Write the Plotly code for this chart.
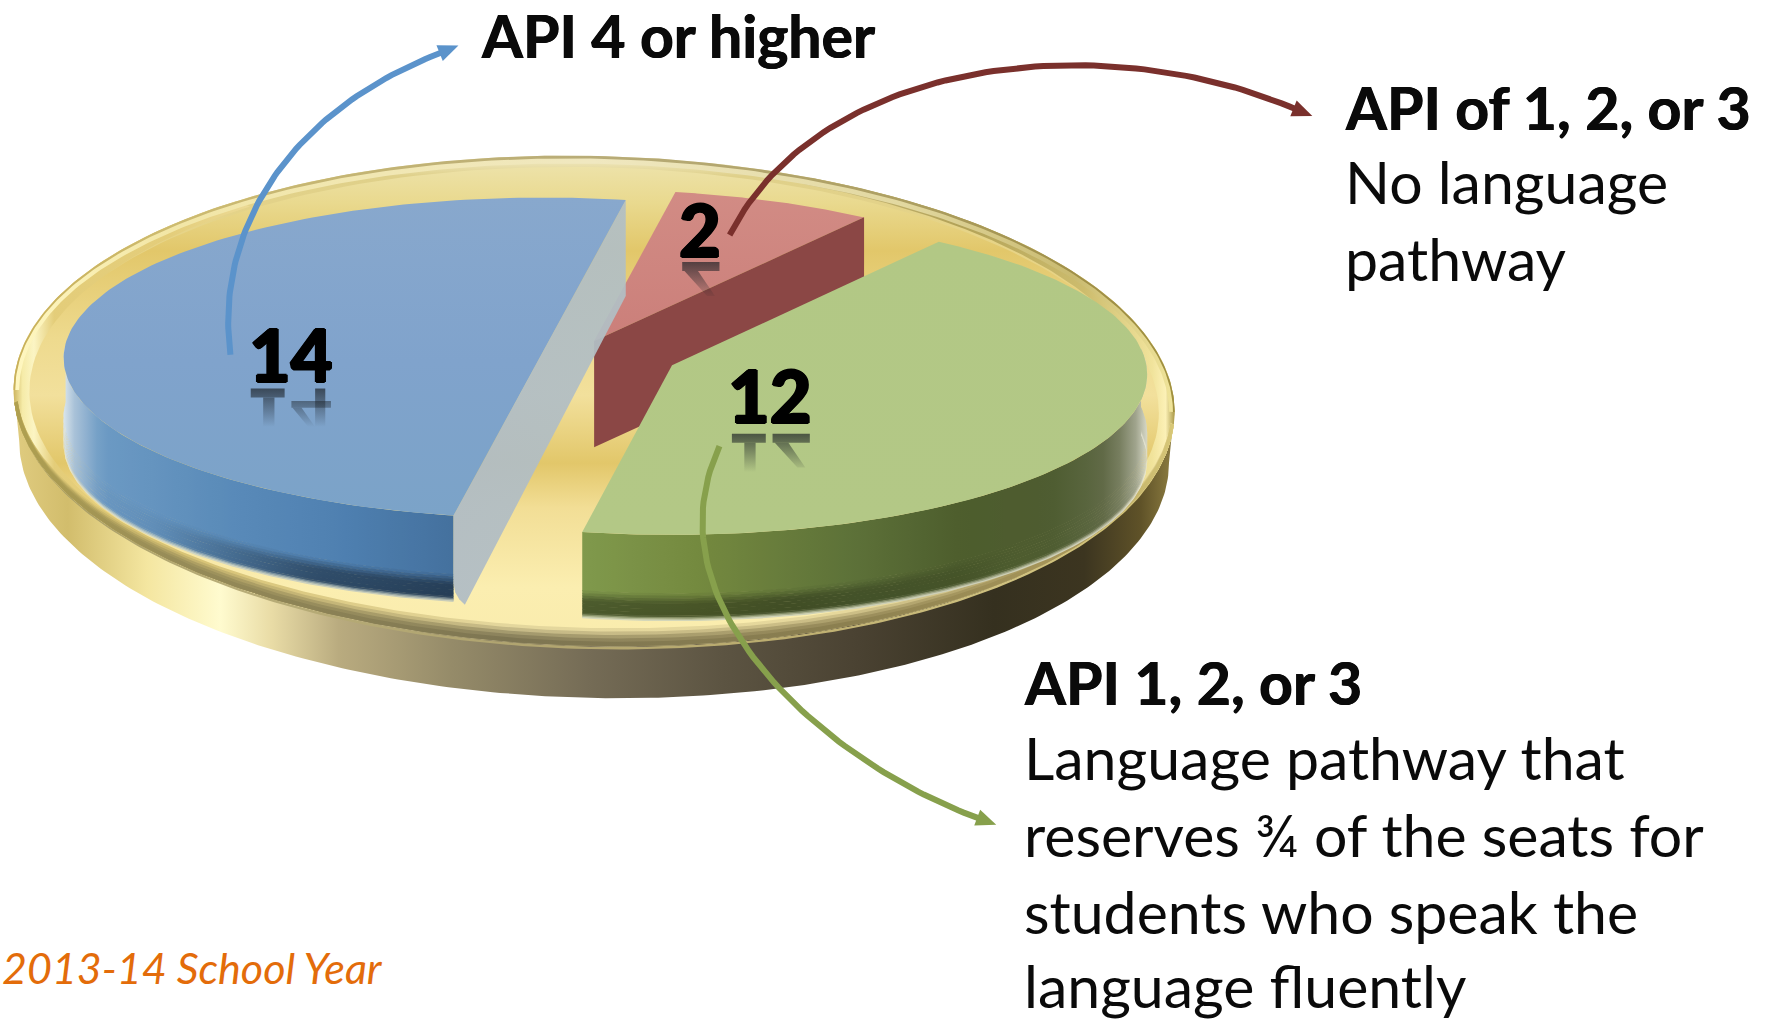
import numpy as np
import plotly.graph_objects as go

# ---------- data ----------
slice_names = ["API 4 or higher", "API of 1, 2, or 3, no language pathway", "API 1, 2, or 3, language pathway"]
slice_values = [14, 2, 12]
slice_labels = ["14", "2", "12"]

heading_blue = "API 4 or higher"
heading_red = "API of 1, 2, or 3"
lines_red = ["No language", "pathway"]
heading_green = "API 1, 2, or 3"
lines_green = ["Language pathway that", "reserves ¾ of the seats for", "students who speak the", "language fluently"]
footnote = "2013-14 School Year"

# ---------- helpers ----------
W, H = 1771, 1021
UW, UH = 1568, 904   # drawing units
fig = go.Figure()


def hex2rgb(c):
    c = c.lstrip("#")
    return np.array([int(c[i:i + 2], 16) for i in (0, 2, 4)], float)


def poly(x, y, color=None, stops=None, kind="horizontal", opacity=1.0, name=""):
    """Filled polygon. stops = [(axis position, colour), ...]"""
    kw = dict(x=list(x), y=list(y), mode="lines", line=dict(width=0), fill="toself",
              showlegend=False, opacity=opacity, hoverinfo="skip" if not name else "text",
              text=name or None)
    if stops:
        a, b = stops[0][0], stops[-1][0]
        scale = [[(p - a) / (b - a), c] for p, c in stops]
        kw["fillgradient"] = dict(type=kind, colorscale=scale, start=a, stop=b)
    else:
        kw["fillcolor"] = color
    fig.add_trace(go.Scatter(**kw))


# ---------- plate ----------
PX, PY, PA, PB = 526, 355, 514, 217
TILT = 0.019


def ell(cx, cy, a, b, t0=0.0, t1=360.0, n=240):
    t = np.radians(np.linspace(t0, t1, n))
    x = cx + a * np.cos(t)
    return x, cy - b * np.sin(t) + (x - PX) * TILT


wall_stops = [(12, "#e0cc80"), (60, "#d2bd6c"), (130, "#f4e6a0"), (195, "#fffbcf"), (240, "#e9dca6"),
              (300, "#b9ab7f"), (400, "#958b69"), (520, "#756c56"), (640, "#5c5442"), (760, "#4a4232"),
              (880, "#35301f"), (960, "#3c3520"), (1010, "#5f5228"), (1040, "#8f7f42")]
x1, y1 = ell(PX, PY - 6, PA, PB, 180, 360)
x2, y2 = ell(PX, PY + 45, PA - 5, PB + 1, 360, 180)
poly(np.r_[x1, x2], np.r_[y1, y2], stops=wall_stops)

# thin light line just under the rim
x1, y1 = ell(PX, PY, PA - 1, PB + 0.6, 180, 360)
x2, y2 = ell(PX, PY + 2.2, PA - 1, PB + 0.6, 360, 180)
poly(np.r_[x1, x2], np.r_[y1, y2], stops=[(12, "#a59a60"), (200, "#b8ad78"), (450, "#b0a470"), (700, "#bdae70"),
                                          (900, "#d0c280"), (1040, "#d0bf70")])

# rim
xr, yr = ell(PX, PY, PA, PB)
poly(xr, yr, stops=[(128, "#a99c62"), (133, "#cfc38c"), (142, "#efe7bd"), (156, "#dfd08a"), (200, "#e6d488"),
                    (400, "#ead07a"), (540, "#f6e8a8"), (585, "#f4e6a6")],
     kind="vertical")
# left highlight and right gold on the rim
x1, y1 = ell(PX, PY, PA, PB, 128, 250)
x2, y2 = ell(PX + 2, PY, PA - 16, PB - 6, 250, 128)
poly(np.r_[x1, x2], np.r_[y1, y2], stops=[(12, "#c8b05a"), (20, "#f8f0b0"), (30, "#fffbd0"), (48, "#e3cc78"), (150, "#e3cc78"),
                                          (240, "#f0dfa0"), (310, "#f7e7a4")], opacity=0.85)
x1, y1 = ell(PX, PY, PA, PB, -50, 68)
x2, y2 = ell(PX - 2, PY, PA - 14, PB - 6, 68, -50)
poly(np.r_[x1, x2], np.r_[y1, y2], stops=[(640, "#d8cb95"), (850, "#a9994f"), (960, "#c8b869"), (1020, "#f2e6a0"), (1032, "#fff6c0"),
                                          (1040, "#a0903f")], opacity=0.85)

# upper edge of the rim: bright band, then a thin tan outer line
x1, y1 = ell(PX, PY, PA - 1, PB - 1, 0, 180)
x2, y2 = ell(PX, PY, PA - 5, PB - 7, 180, 0)
poly(np.r_[x1, x2], np.r_[y1, y2], stops=[(12, "#fff7c0"), (150, "#f2e6a6"), (526, "#f0e8c0"), (800, "#e2d8a0"),
                                          (950, "#c9ba70"), (1040, "#f0e49a")])
x1, y1 = ell(PX, PY, PA, PB, 0, 180)
x2, y2 = ell(PX, PY, PA - 1.5, PB - 2.5, 180, 0)
poly(np.r_[x1, x2], np.r_[y1, y2], stops=[(12, "#c8b05a"), (150, "#cdbb70"), (526, "#b8ac78"), (800, "#ad9f62"),
                                          (950, "#a0904a"), (1040, "#a0903f")])

# plate face
xf, yf = ell(PX, PY + 1, PA - 14, PB - 9)
poly(xf, yf, stops=[(140, "#eee4ae"), (180, "#e9d98e"), (222, "#e2c76a"), (300, "#eeda8e"), (350, "#f2e09c"),
                    (410, "#e2c76a"), (450, "#f2de96"), (520, "#fbeeb0"), (580, "#f9ebac")], kind="vertical")

# lower lip of the rim: thin at the sides, widest at the front, darkening outwards
lip_colours = [(12, "#b0a050"), (150, "#978c58"), (450, "#7d7552"), (750, "#8c8050"), (950, "#a8975a"), (1040, "#d8c878")]
for inner, fade in [(15, 0.85), (12, 0.6), (9, 0.32), (6, 0.12), (3, 0.0)]:
    x1, y1 = ell(PX, PY, PA, PB, 183, 357)
    x2, y2 = ell(PX, PY - 1, PA - 3, PB - inner, 357, 183)
    s = []
    for p, c in lip_colours:
        pale = np.array([226, 204, 120]) if p < 250 else np.array([246, 232, 170])
        col = hex2rgb(c) * (1 - fade) + pale * fade
        s.append((p, "rgb(%d,%d,%d)" % tuple(col.round())))
    poly(np.r_[x1, x2], np.r_[y1, y2], stops=s)

# ---------- pie: every wedge comes from slice_values ----------
FIRST_ANGLE = 79.7
PIE_A, PIE_B, PERSP = 425.0, 141.6, 0.0563
spans = np.array(slice_values, float) / sum(slice_values) * 360.0
# slice order in the arrays is blue, red, green; pie runs blue -> green -> red counter-clockwise
order = [0, 2, 1]
angle = FIRST_ANGLE
a0 = {}
for i in order:
    a0[i] = angle
    angle += spans[i]


def proj(cx, cy, theta, a=PIE_A):
    u = np.cos(np.radians(theta))
    v = -np.sin(np.radians(theta))
    s = 1.0 / (1.0 - PERSP * v)
    return cx + a * u * s, cy + PIE_B * v * s


def top_face(i, cx, cy, stops, a=PIE_A):
    t = np.linspace(a0[i], a0[i] + spans[i], 160)
    x, y = proj(cx, cy, t, a)
    poly(np.r_[cx, x, cx], np.r_[cy, y, cy], stops=stops, kind="vertical", name=f"{slice_names[i]}: {slice_values[i]}")


# wall shading as a function of height down the wall
BAND_EDGES = np.array([0, .68, .71, .74, .77, .80, .83, .86, .90, .94, .96, .975, .99, 1.0])
DARK_H = ([0, .68, .80, .95, 1.0], [0, 0, .40, .42, .1])
GLOW_H = ([0, .945, .975, 1.0], [0, 0, .4, .85])


def rim_wall(cx, cy, t0, t1, height, stops, dark, glow_rgb, a=PIE_A):
    t = np.linspace(t0, t1, 120)
    x, y = proj(cx, cy, t, a)
    px = np.linspace(stops[0][0], stops[-1][0], 36)
    rgb = np.array([hex2rgb(c) for _, c in stops])
    base = np.stack([np.interp(px, [p for p, _ in stops], rgb[:, k]) for k in range(3)], axis=1)
    dprof = np.interp(px, dark[0], dark[1])
    for h0, h1 in zip(BAND_EDGES[:-1], BAND_EDGES[1:]):
        hm = (h0 + h1) / 2
        dm = np.interp(hm, *DARK_H)
        gm = np.interp(hm, *GLOW_H)
        xb, yb = x[::-1], y[::-1] + h1 * height + 0.5
        s = []
        for j, p in enumerate(px):
            col = base[j] * (1 - dm * dprof[j])
            col = col + (np.array(glow_rgb) - col) * gm
            s.append((p, "rgb(%d,%d,%d)" % tuple(np.clip(col, 0, 255).round())))
        poly(np.r_[x, xb], np.r_[y + h0 * height, yb], stops=s)


CB, CR, CG = (482, 309), (526, 302), (595, 323.5)
GREEN_A = 420.0
WALL = 76
RED_WALL = 94

# red wedge (furthest back)
red_end = a0[1]
xe, ye = proj(*CR, red_end)
top_face(1, *CR, [(165, "#d28c85"), (300, "#cb7f7a")])
poly([CR[0], xe, xe, CR[0]], [CR[1], ye, ye + RED_WALL, CR[1] + RED_WALL], color="#8b4745")

# blue wedge
blue_start = a0[0]
blue_end = a0[0] + spans[0]
rim_wall(*CB, 178, blue_end, WALL,
         [(56, "#dbe6ec"), (66, "#a9c2d8"), (90, "#6c9ac4"), (200, "#5a8bb9"), (300, "#4f80b1"), (405, "#44709d")],
         ([56, 140, 280, 405], [0, 0.1, 1, 1.1]), (245, 238, 200))
xs, ys = proj(*CB, blue_start)
xe, ye = proj(*CB, blue_end)
poly([xs, xe, xe, xe + 1.5, xe + 5, xe + 10, xs, xs],
     [ys, ye, ye + 60, ye + 68, ye + 74, ye + WALL + 3, ys + 85, ys],
     stops=[(403, "#b0bcc5"), (553, "#b2bfc4")], opacity=0.93)
top_face(0, *CB, [(175, "#88a8cd"), (320, "#80a3cc"), (457, "#7ba3c8")])

# green wedge
green_start = a0[2]
green_end = a0[2] + spans[2]
rim_wall(*CG, green_start, 366, WALL,
         [(515, "#80994c"), (620, "#74893f"), (760, "#5c7038"), (850, "#4d5d2d"), (930, "#4e5c30"), (975, "#5e6844"),
          (1000, "#858a6e"), (1012, "#c0c2b0"), (1020, "#eeeee0")],
         ([515, 700, 800, 900, 1020], [1.0, 0.9, 0.5, 0, 0]), (245, 243, 225), a=GREEN_A)
top_face(2, *CG, [(210, "#b2c885"), (472, "#b3c886")], a=GREEN_A)

# ---------- arrows ----------


def bez(p0, p1, p2, p3, n=80):
    t = np.linspace(0, 1, n)[:, None]
    p0, p1, p2, p3 = map(np.array, (p0, p1, p2, p3))
    return (1 - t) ** 3 * p0 + 3 * (1 - t) ** 2 * t * p1 + 3 * (1 - t) * t ** 2 * p2 + t ** 3 * p3


def arrow(pts, color):
    c = bez(*pts)
    fig.add_trace(go.Scatter(x=c[:, 0], y=c[:, 1], mode="lines", line=dict(color=color, width=6),
                             showlegend=False, hoverinfo="skip"))
    tip = c[-1] + (c[-1] - c[-4]) / np.linalg.norm(c[-1] - c[-4]) * 15
    d = (tip - c[-1]) / 15
    n = np.array([-d[1], d[0]])
    base = tip - d * 18
    pts2 = [tip, base + n * 7.5, base - n * 7.5, tip]
    poly([p[0] for p in pts2], [p[1] for p in pts2], color=color)


arrow([(204, 314), (190, 210), (250, 100), (392, 46)], "#5b93cb")
arrow([(646, 208), (725, 52), (975, 22), (1148, 97)], "#7a302c")
arrow([(637, 395), (570, 540), (740, 680), (868, 725)], "#87a04c")

# ---------- reflections under the value labels ----------
DIGIT_REFLECT = {
    "1": dict(w=33, parts=[[(0, 6), (30, 6), (30, 14), (0, 14)], [(11, 14), (21, 14), (21, 40), (11, 40)]]),
    "2": dict(w=36, parts=[[(0, 6), (33, 6), (33, 14), (0, 14)], [(2, 14), (14, 14), (29, 36), (22, 36)]]),
    "4": dict(w=36, parts=[[(21, 6), (30, 6), (30, 40), (21, 40)], [(0, 17), (35, 17), (35, 23), (0, 23)],
                           [(1, 23), (9, 23), (21, 40), (15, 40)]]),
}
LABEL_POS = {"14": (222, 338), "2": (604, 226), "12": (648, 378)}
for lab in slice_labels:
    x0, base = LABEL_POS[lab]
    for ch in lab:
        spec = DIGIT_REFLECT[ch]
        for part in spec["parts"]:
            xs_ = [x0 + p[0] for p in part] + [x0 + part[0][0]]
            ys_ = [base + p[1] for p in part] + [base + part[0][1]]
            poly(xs_, ys_, stops=[(base + 4, "rgba(25,30,35,0.72)"), (base + 40, "rgba(25,30,35,0.0)")], kind="vertical")
        x0 += spec["w"] + (3 if ch == "1" else 0)

# ---------- text ----------


def text(x, y, s, size, weight=400, italic=False, color="#0a0a0a", anchor="left", shadow=None):
    f = dict(family="Lato", size=size, color=color, weight=weight, style="italic" if italic else "normal")
    if shadow:
        f["shadow"] = shadow
    fig.add_annotation(x=x, y=y, text=s, showarrow=False, xanchor=anchor, yanchor="middle", align=anchor,
                       xref="x", yref="y", borderpad=0, font=f)


THICK = "1.2px 0 0 #000, -1.2px 0 0 #000, 0 1px 0 #000, 0 -1px 0 #000"
SEMI = "0.5px 0 0 #0a0a0a, -0.5px 0 0 #0a0a0a"
LABEL_MID = {"14": (258, 313), "2": (620, 203), "12": (682, 350)}
for lab in slice_labels:
    text(LABEL_MID[lab][0], LABEL_MID[lab][1], lab, 72, weight=900, color="#000000", anchor="center", shadow=THICK)

HEAD = 59
BODY = 59
text(425, 31, heading_blue, HEAD, weight=700, shadow=SEMI)
text(1190, 95, heading_red, HEAD, weight=700, shadow=SEMI)
for yy, s in zip((161, 229), lines_red):
    text(1190, yy, s, BODY)
text(906, 604, heading_green, HEAD, weight=700, shadow=SEMI)
for yy, s in zip((671, 739, 807, 873), lines_green):
    text(906, yy, s, BODY)
text(340, 857, footnote, 43, italic=True, color="#e36c0a", anchor="right")

fig.update_layout(width=W, height=H, margin=dict(l=0, r=0, t=0, b=0), paper_bgcolor="white", plot_bgcolor="white",
                  xaxis=dict(range=[0, UW], visible=False, fixedrange=True),
                  yaxis=dict(range=[UH, 0], visible=False, fixedrange=True), showlegend=False)
fig.write_html("out.html", config=dict(displayModeBar=False),
               post_script='document.body.style.margin="0";document.body.style.overflow="hidden";')
